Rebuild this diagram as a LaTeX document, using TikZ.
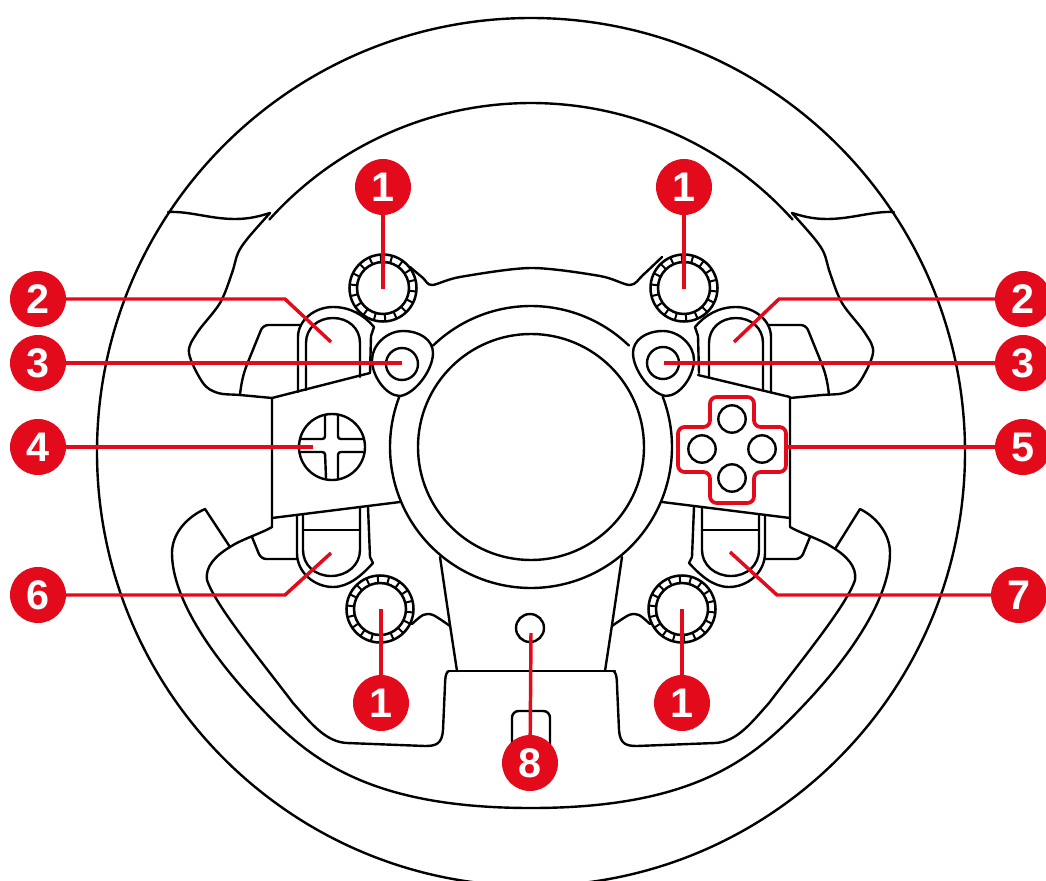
\documentclass[tikz,border=0pt]{standalone}
\usepackage{fontspec}
\setmainfont{Liberation Sans}
\definecolor{tmred}{HTML}{E30B1B}
\tikzset{
  ink/.style={draw=black,line width=1.8pt,line join=round,line cap=round},
  leader/.style={draw=tmred,line width=2.6pt,line join=miter},
  badge/.style={circle,fill=tmred,text=white,minimum size=42pt,inner sep=0pt,font=\fontsize{31}{31}\selectfont\bfseries},
  knobring/.style={draw=black,line width=1.9pt},
  btn/.style={circle,draw=black,line width=1.8pt,inner sep=0pt,fill=none},
}
% left-hand spoke and grip pieces, used again mirrored
\newcommand{\spokeoutline}{%
  \draw[ink] plot[smooth,tension=.55] coordinates {(270,213) (248,238) (238,253) (232,273) (220,303) (197,333) (189,353) (203,383) (218,393) (240,395) (272,398)};
  \draw[ink] (168,212) .. controls (190,211) and (210,219) .. (235,219) .. controls (250,219) and (260,216) .. (270,213);
  \draw[ink] (272,518) -- (272,527) .. controls (262,533) and (240,540) .. (230,547) .. controls (215,556) and (205,567) .. (207,580) .. controls (215,605) and (262,662) .. (293,703) .. controls (310,722) and (325,742) .. (347,743) -- (425,746) .. controls (436,746) and (442,744) .. (443,730) -- (445,685) .. controls (445,675) and (447,671) .. (449,671);
}
\newcommand{\lowerpaddle}{%
  \draw[ink] (297,515) -- (297,553) .. controls (297,573) and (315,587) .. (333,587) .. controls (349,587) and (362,575) .. (373,563) -- (370,557) -- (368,507);
  \draw[ink] (303,515) -- (303,550) .. controls (303,565) and (315,576) .. (331,576) .. controls (347,576) and (360,565) .. (360,550) -- (360,507);
  \draw[ink] (303,530) -- (360,530);
  \draw[ink,rounded corners=4pt] (252,537) -- (261,559) -- (297,559);
}
\newcommand{\upperpaddle}{%
  \draw[ink] (298,392) -- (298,337) .. controls (298,320) and (315,307) .. (333,307) .. controls (350,307) and (364,315) .. (374,327) -- (371,336) -- (370,373);
  \draw[ink] (306,390) -- (306,343) .. controls (306,328) and (318,318) .. (333,318) .. controls (348,318) and (360,328) .. (360,343) -- (360,377);
}
\newcommand{\sidepiece}{%
  \draw[ink,rounded corners=4pt] (300,325) -- (263,325) -- (248,362) .. controls (243,375) and (241,385) .. (240,395);
}
\newcommand{\bodythree}{%
  \draw[ink] (403,331) .. controls (420,331) and (433,340) .. (433,353) .. controls (433,370) and (415,394) .. (400,396) .. controls (386,396) and (372,376) .. (372,360) .. controls (372,345) and (387,331) .. (403,331) -- cycle;
}
\newcommand{\lowerlink}{%
  \draw[ink] plot[smooth,tension=.5] coordinates {(412,624) (423,615) (433,615) (450,626)};
  \draw[ink] (440,557) -- (450,625) -- (457,671);
}
\newcommand{\knob}[2]{%
  \foreach \a in {0,20,...,340} {
    \draw[black,line width=1.5pt] ({#1+26*cos(\a+6)},{#2+26*sin(\a+6)}) -- ({#1+33.5*cos(\a+6)},{#2+33.5*sin(\a+6)});
  }
  \draw[knobring] (#1,#2) circle [radius=33.5];
  \draw[knobring] (#1,#2) circle [radius=26];
}
\begin{document}
\begin{tikzpicture}[x=0.75pt,y=-0.75pt]
\useasboundingbox (0,0) rectangle (1046,881);
\fill[white] (0,0) rectangle (1046,881);
\begin{scope}
\clip (0,0) rectangle (1046,881);
% wheel rim
\draw[ink] (531,452) circle [radius=434];
\draw[ink] plot[domain=42:138,samples=60,smooth] ({531+352*cos(\x)},{455-352*sin(\x)});
\draw[ink] (230,547) -- (205,509) .. controls (185,518) and (172,535) .. (172,553) .. controls (172,600) and (215,660) .. (260,707) .. controls (310,760) and (370,808) .. (531,808) .. controls (692,808) and (752,760) .. (802,707) .. controls (847,660) and (890,600) .. (890,553) .. controls (890,535) and (878,518) .. (860,509) -- (835,549);
% left and right pieces
\spokeoutline \lowerpaddle \lowerlink
\upperpaddle \sidepiece \bodythree
\begin{scope}[shift={(1062,0)},xscale=-1]
  \spokeoutline \lowerpaddle \lowerlink
\end{scope}
\begin{scope}[shift={(1069,0)},xscale=-1]
  \upperpaddle \sidepiece
\end{scope}
\begin{scope}[shift={(1066,0)},xscale=-1]
  \bodythree
\end{scope}
% hub
\draw[ink] (531,447) circle [radius=113];
\draw[ink] plot[domain=46:134,samples=40,smooth] ({531+141*cos(\x)},{447-141*sin(\x)});
\draw[ink] plot[domain=159:381,samples=80,smooth] ({531+141*cos(\x)},{447-141*sin(\x)});
% centre plate
\draw[ink] (272,398) -- (370,373);
\draw[ink] (272,398) -- (272,518) -- (400,502);
\draw[ink] (698,375) -- (790,397) -- (790,518) -- (662,502);
% top arch between the upper knobs
\draw[ink] plot[smooth,tension=.5] coordinates {(410,267) (423,278) (432,285) (460,277) (531,268) (600,276) (630,285) (643,275) (662,257)};
% bottom plate
\draw[ink] (449,671) -- (615,671);
\draw[ink,rounded corners=5pt] (512,748) -- (512,711) -- (550,711) -- (550,748);
% knobs
\knob{383}{288}
\knob{684}{288}
\knob{380}{609}
\knob{682}{609}
% cross pad
\node[btn,minimum size=49.5pt] (pad) at (332,447) {};
\draw[ink,rounded corners=2pt] (325,415) -- (325,439) -- (301,439);
\draw[ink,rounded corners=2pt] (338,415) -- (338,439) -- (363,439);
\draw[ink,rounded corners=2pt] (301,452) -- (325,452) -- (326,478);
\draw[ink,rounded corners=2pt] (363,452) -- (338,452) -- (338,478);
% small buttons
\node[btn,minimum size=24pt] (b3l) at (402,364) {};
\node[btn,minimum size=24pt] (b3r) at (663,363) {};
\node[btn,minimum size=20.5pt] (du) at (732,419) {};
\node[btn,minimum size=20.5pt] (dd) at (732,478) {};
\node[btn,minimum size=20.5pt] (dl) at (702,449) {};
\node[btn,minimum size=20.5pt] (dr) at (762,449) {};
\node[btn,minimum size=21pt] (b8) at (530,628) {};
% d-pad outline
\draw[draw=tmred,line width=2.8pt,rounded corners=5pt] (710,397) -- (754,397) -- (754,427) -- (786,427) -- (786,472) -- (754,472) -- (754,503) -- (710,503) -- (710,472) -- (678,472) -- (678,427) -- (710,427) -- cycle;
\end{scope}
% badges placed first for naming, leaders end on coordinates
\coordinate (t1a) at (383,289);
\coordinate (t1b) at (684,289);
\coordinate (t1c) at (381,609);
\coordinate (t1d) at (682,609);
\coordinate (bend2l) at (285,299);
\coordinate (t2l) at (331,342);
\coordinate (bend2r) at (779,299);
\coordinate (t2r) at (734,342);
\coordinate (t3l) at (402,363);
\coordinate (t3r) at (664,363);
\coordinate (t4) at (313,447);
\coordinate (t5) at (786,447);
\coordinate (bend6) at (285,595);
\coordinate (t6) at (331,553);
\coordinate (bend7) at (777,595);
\coordinate (t7) at (730,552);
\coordinate (t8) at (531,633);
\node[badge,opacity=0] (n1a) at (383,187) {};
\node[badge,opacity=0] (n1b) at (684,187) {};
\node[badge,opacity=0] (n1c) at (381,703) {};
\node[badge,opacity=0] (n1d) at (682,703) {};
\node[badge,opacity=0] (n2l) at (38,299) {};
\node[badge,opacity=0] (n3l) at (38,363) {};
\node[badge,opacity=0] (n4) at (38,447) {};
\node[badge,opacity=0] (n6) at (38,595) {};
\node[badge,opacity=0] (n2r) at (1023,299) {};
\node[badge,opacity=0] (n3r) at (1023,363) {};
\node[badge,opacity=0] (n5) at (1023,447) {};
\node[badge,opacity=0] (n7) at (1019,595) {};
\node[badge,opacity=0] (n8) at (530,763) {};
\begin{scope}
\clip (0,0) rectangle (1046,881);
\draw[leader] (n1a.center) -- (t1a);
\draw[leader] (n1b.center) -- (t1b);
\draw[leader] (n1c.center) -- (t1c);
\draw[leader] (n1d.center) -- (t1d);
\draw[leader] (n2l.center) -- (bend2l) -- (t2l);
\draw[leader] (n2r.center) -- (bend2r) -- (t2r);
\draw[leader] (n3l.center) -- (t3l);
\draw[leader] (n3r.center) -- (t3r);
\draw[leader] (n4.center) -- (t4);
\draw[leader] (n5.center) -- (t5);
\draw[leader] (n6.center) -- (bend6) -- (t6);
\draw[leader] (n7.center) -- (bend7) -- (t7);
\draw[leader] (n8.center) -- (t8);
\node[badge] at (n1a) {1};
\node[badge] at (n1b) {1};
\node[badge] at (n1c) {1};
\node[badge] at (n1d) {1};
\node[badge] at (n2l) {2};
\node[badge] at (n3l) {3};
\node[badge] at (n4) {4};
\node[badge] at (n6) {6};
\node[badge] at (n2r) {2};
\node[badge] at (n3r) {3};
\node[badge] at (n5) {5};
\node[badge] at (n7) {7};
\node[badge] at (n8) {8};
\end{scope}
\end{tikzpicture}
\end{document}
